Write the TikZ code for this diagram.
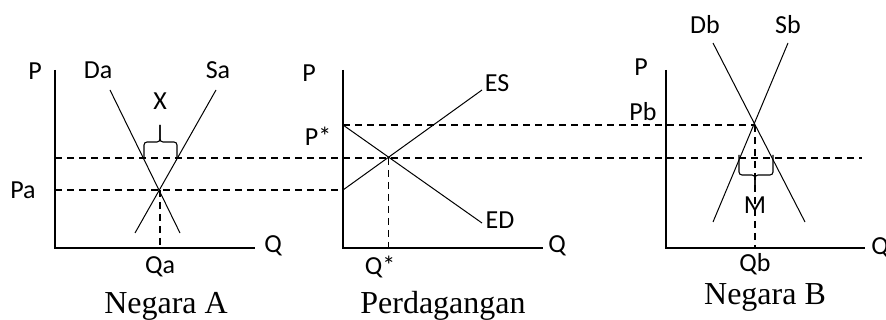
\documentclass[tikz,border=0pt]{standalone}
\usepackage{fontspec}
\setmainfont{Liberation Serif}
\newfontfamily\labfont{Carlito}
\begin{document}
\begin{tikzpicture}[x=1pt,y=-1pt,
  lab/.style={font=\labfont\fontsize{26}{29}\selectfont, inner sep=0pt},
  captext/.style={font=\fontsize{32}{36}\selectfont, inner sep=0pt, anchor=base},
  curve/.style={line width=1.0pt},
  axis/.style={line width=1.3pt},
  guide/.style={line width=1.5pt, dash pattern=on 7pt off 5pt},
  bracestyle/.style={line width=1.1pt, rounded corners=3pt}]
\useasboundingbox (0,0) rectangle (886,320);

% ---------- Panel A ----------
\coordinate (Atop) at (55,70);
\coordinate (Ao) at (55,248);
\coordinate (Aend) at (255,248);
\draw[axis] (Atop) -- (Ao) -- (Aend);
\coordinate (Da1) at (110,90);
\coordinate (Da2) at (180,233);
\coordinate (Sa1) at (216,90);
\coordinate (Sa2) at (135,233);
\draw[curve] (Da1) -- (Da2);
\draw[curve] (Sa1) -- (Sa2);
\coordinate (Ea) at (160,190);
\coordinate (Qab) at (160,248);
\draw[guide] (Ea) -- (Qab);

% ---------- Panel Trade ----------
\coordinate (Ttop) at (343,70);
\coordinate (To) at (343,248);
\coordinate (Tend) at (543,248);
\draw[axis] (Ttop) -- (To) -- (Tend);
\coordinate (ED1) at (343,125);
\coordinate (ED2) at (482,223);
\coordinate (ES1) at (343,190);
\coordinate (ES2) at (482,90);
\draw[curve] (ED1) -- (ED2);
\draw[curve] (ES1) -- (ES2);
\coordinate (Et) at (388.5,158);
\coordinate (Qtb) at (388.5,248);
\draw[guide] (Et) -- (Qtb);

% ---------- Panel B ----------
\coordinate (Btop) at (666,70);
\coordinate (Bo) at (666,248);
\coordinate (Bend) at (865,248);
\draw[axis] (Btop) -- (Bo) -- (Bend);
\coordinate (Db1) at (713,43);
\coordinate (Db2) at (805,222);
\coordinate (Sb1) at (788,43);
\coordinate (Sb2) at (713,222);
\draw[curve] (Db1) -- (Db2);
\draw[curve] (Sb1) -- (Sb2);
\coordinate (Eb) at (755,125);
\coordinate (Qbb) at (755,248);
\draw[guide] (Eb) -- (Qbb);

% ---------- horizontal guides ----------
\coordinate (Pa0) at (55,190);
\coordinate (Pa1) at (343,190);
\draw[guide] (Pa0) -- (Pa1);
\coordinate (Pw0) at (55,158);
\coordinate (Pw1) at (862,158);
\draw[guide] (Pw0) -- (Pw1);
\coordinate (Ps0) at (343,125);
\draw[guide] (Ps0) -- (Eb);

% ---------- braces ----------
\draw[bracestyle] (144,157) -- (144,142) -- (160,142) -- (160,125);
\draw[bracestyle] (177,157) -- (177,142) -- (160,142) -- (160,125);
\draw[bracestyle] (739,155) -- (739,175) -- (755,175) -- (755,187);
\draw[bracestyle] (773,155) -- (773,175) -- (755,175) -- (755,187);

% ---------- labels A ----------
\node[lab] (lPA) at (35,71) {P};
\node[lab] (lDa) at (98,70) {Da};
\node[lab] (lSa) at (218,70) {Sa};
\node[lab] (lX) at (160,101) {X};
\node[lab] (lPa) at (23,190) {Pa};
\node[lab] (lQa) at (160,267) {Qa};
\node[lab] (lQA) at (273,246) {Q};
\node[captext] (cA) at (166,313) {Negara A};

% ---------- labels Trade ----------
\node[lab] (lPT) at (309,73) {P};
\node[lab] (lPs) at (318,136) {P*};
\node[lab] (lES) at (497,83) {ES};
\node[lab] (lED) at (500,220) {ED};
\node[lab] (lQs) at (380,267) {Q*};
\node[lab] (lQT) at (557,246) {Q};
\node[captext] (cT) at (443,313) {Perdagangan};

% ---------- labels B ----------
\node[lab] (lPB) at (641,67) {P};
\node[lab] (lPb) at (643,112) {Pb};
\node[lab] (lDb) at (705,25) {Db};
\node[lab] (lSb) at (788,25) {Sb};
\node[lab] (lM) at (755,205) {M};
\node[lab] (lQb) at (755,264) {Qb};
\node[lab] (lQB) at (880,248) {Q};
\node[captext] (cB) at (765,305) {Negara B};
\end{tikzpicture}
\end{document}
